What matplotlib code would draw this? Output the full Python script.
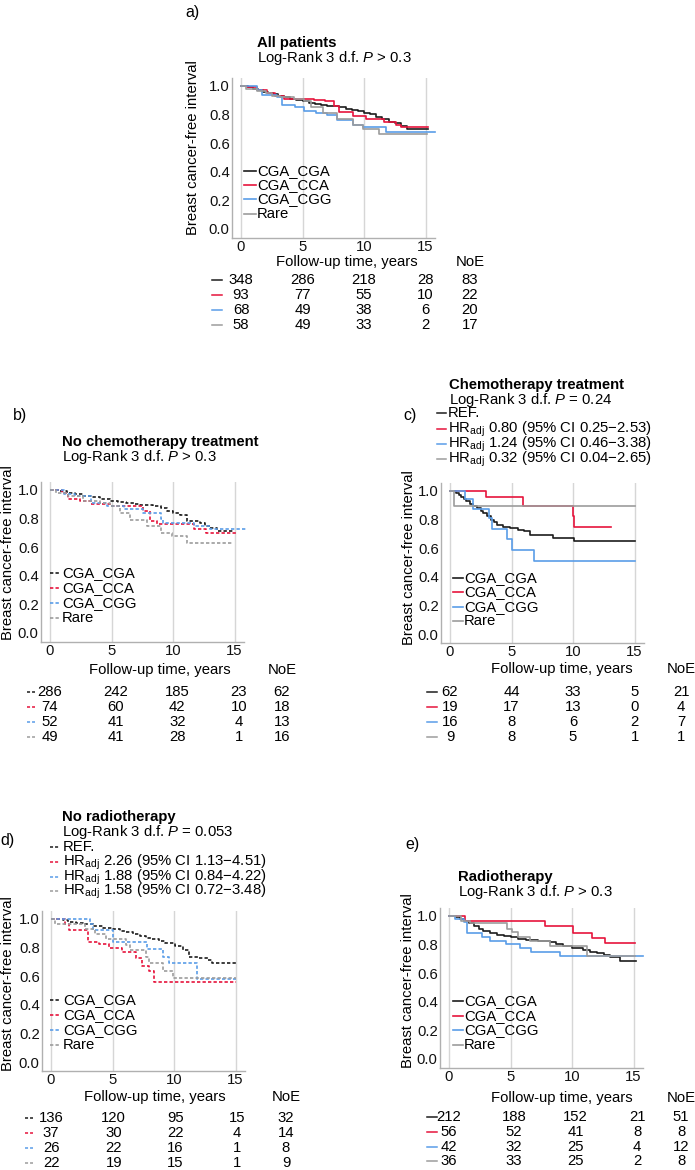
import matplotlib
matplotlib.use('Agg')
import matplotlib.pyplot as plt
from matplotlib.lines import Line2D
import matplotlib.transforms as mtransforms

plt.rcParams['font.family'] = ['Liberation Sans', 'DejaVu Sans']
plt.rcParams['mathtext.fontset'] = 'custom'
plt.rcParams['mathtext.rm'] = 'Liberation Sans'
plt.rcParams['mathtext.it'] = 'Liberation Sans:italic'
plt.rcParams['mathtext.bf'] = 'Liberation Sans:bold'

# ---------------- data ----------------
groups = ['CGA_CGA', 'CGA_CCA', 'CGA_CGG', 'Rare']
colors = ['#1c1c1c', '#e6143c', '#5a9de8', '#9c9c9c']
xticks = [0, 5, 10, 15]
yticks = [0.0, 0.2, 0.4, 0.6, 0.8, 1.0]

# a) All patients
a_cga_t = [0.6, 1.0, 1.4, 1.8, 2.2, 2.6, 3.0, 3.5, 4.0, 4.5, 5.0, 5.5, 6.0, 6.5, 7.0, 7.5, 8.0, 8.5, 9.0, 9.5, 10.0, 10.5, 11.0, 11.5, 12.0, 12.5, 13.0, 13.5]
a_cga_s = [0.99, 0.98, 0.97, 0.958, 0.95, 0.94, 0.93, 0.92, 0.91, 0.90, 0.89, 0.88, 0.87, 0.865, 0.86, 0.855, 0.85, 0.84, 0.83, 0.82, 0.81, 0.80, 0.78, 0.77, 0.75, 0.74, 0.72, 0.695]
a_cca_t = [0.5, 1.3, 2.1, 2.8, 3.5, 5.9, 6.8, 7.6, 8.0, 9.1, 10.2, 11.6, 12.6, 13.0]
a_cca_s = [0.99, 0.97, 0.947, 0.93, 0.91, 0.90, 0.89, 0.86, 0.814, 0.79, 0.77, 0.75, 0.726, 0.714]
a_cgg_t = [1.3, 1.7, 2.9, 3.3, 4.4, 5.1, 6.1, 7.0, 7.8, 9.1, 9.9, 11.8]
a_cgg_s = [0.97, 0.935, 0.923, 0.865, 0.85, 0.82, 0.807, 0.795, 0.76, 0.726, 0.71, 0.675]
a_rare_t = [0.4, 1.3, 2.0, 2.5, 3.2, 4.3, 5.1, 5.7, 6.7, 7.8, 9.1, 9.9, 11.2]
a_rare_s = [0.98, 0.965, 0.948, 0.93, 0.92, 0.905, 0.89, 0.853, 0.807, 0.77, 0.726, 0.70, 0.663]
a_end = [15.2, 15.2, 15.8, 15.1]
risk_a = [[348, 286, 218, 28], [93, 77, 55, 10], [68, 49, 38, 6], [58, 49, 33, 2]]
noe_a = [83, 22, 20, 17]

# b) No chemotherapy
b_cga_t = [0.8, 1.4, 2.0, 2.7, 3.4, 4.1, 4.9, 5.5, 6.2, 6.8, 7.3, 8.4, 9.0, 9.5, 10.0, 10.6, 11.1, 12.2, 12.6, 13.0, 13.6]
b_cga_s = [0.99, 0.98, 0.97, 0.958, 0.947, 0.935, 0.923, 0.915, 0.907, 0.90, 0.893, 0.883, 0.87, 0.853, 0.84, 0.825, 0.78, 0.77, 0.75, 0.73, 0.71]
b_cca_t = [0.95, 1.5, 2.4, 3.3, 4.9, 7.6, 8.1, 8.7, 11.7, 12.7]
b_cca_s = [0.98, 0.935, 0.923, 0.90, 0.888, 0.853, 0.78, 0.76, 0.724, 0.70]
b_cgg_t = [1.1, 2.0, 3.3, 4.6, 6.0, 7.6, 9.0, 9.2, 11.7, 13.0]
b_cgg_s = [0.97, 0.955, 0.907, 0.888, 0.865, 0.836, 0.795, 0.766, 0.748, 0.724]
b_rare_t = [0.5, 1.5, 2.7, 4.1, 4.9, 5.7, 6.5, 7.9, 9.0, 9.9, 11.1]
b_rare_s = [0.98, 0.955, 0.923, 0.907, 0.883, 0.84, 0.79, 0.748, 0.70, 0.678, 0.626]
b_end = [14.9, 15.2, 15.9, 14.9]
risk_b = [[286, 242, 185, 23], [74, 60, 42, 10], [52, 41, 32, 4], [49, 41, 28, 1]]
noe_b = [62, 18, 13, 16]

# c) Chemotherapy
c_cga_t = [0.5, 0.7, 0.9, 1.1, 1.3, 1.6, 1.9, 2.2, 2.5, 2.7, 3.0, 3.3, 3.6, 3.8, 4.3, 4.9, 5.5, 6.0, 6.5, 8.4, 10.1]
c_cga_s = [0.984, 0.968, 0.956, 0.94, 0.925, 0.91, 0.895, 0.88, 0.86, 0.844, 0.82, 0.797, 0.78, 0.762, 0.75, 0.739, 0.727, 0.716, 0.692, 0.669, 0.65]
c_cca_t = [2.9, 5.9, 10.0, 10.1]
c_cca_s = [0.953, 0.89, 0.82, 0.75]
c_cgg_t = [1.2, 1.9, 3.2, 3.4, 4.6, 5.0, 6.8]
c_cgg_s = [0.94, 0.875, 0.81, 0.73, 0.66, 0.585, 0.51]
c_rare_t = [0.35]
c_rare_s = [0.89]
c_end = [15.0, 13.1, 15.0, 15.0]
risk_c = [[62, 44, 33, 5], [19, 17, 13, 0], [16, 8, 6, 2], [9, 8, 5, 1]]
noe_c = [21, 4, 7, 1]
hr_c = [0.80, 1.24, 0.32]
lo_c = [0.25, 0.46, 0.04]
hi_c = [2.53, 3.38, 2.65]

# d) No radiotherapy
d_cga_t = [1.0, 1.4, 2.0, 2.6, 3.4, 4.2, 5.0, 5.6, 6.1, 6.7, 7.2, 7.7, 8.2, 8.8, 9.3, 10.1, 10.7, 11.2, 12.0, 12.8, 13.1]
d_cga_s = [0.99, 0.98, 0.97, 0.96, 0.949, 0.935, 0.925, 0.915, 0.907, 0.893, 0.88, 0.868, 0.855, 0.843, 0.832, 0.81, 0.785, 0.734, 0.727, 0.71, 0.69]
d_cca_t = [1.1, 1.5, 3.0, 3.9, 4.7, 5.8, 6.9, 7.4, 8.0, 8.4]
d_cca_s = [0.96, 0.918, 0.836, 0.82, 0.794, 0.77, 0.727, 0.668, 0.633, 0.556]
d_cgg_t = [3.2, 3.4, 5.0, 7.8, 9.1, 9.6, 11.9]
d_cgg_s = [0.96, 0.918, 0.836, 0.79, 0.734, 0.69, 0.58]
d_rare_t = [0.3, 2.8, 3.6, 4.5, 6.1, 6.4, 7.7, 8.0, 9.1, 9.9]
d_rare_s = [0.96, 0.925, 0.89, 0.86, 0.813, 0.785, 0.734, 0.69, 0.633, 0.587]
d_end = [15.0, 15.0, 15.0, 15.0]
risk_d = [[136, 120, 95, 15], [37, 30, 22, 4], [26, 22, 16, 1], [22, 19, 15, 1]]
noe_d = [32, 14, 8, 9]
hr_d = [2.26, 1.88, 1.58]
lo_d = [1.13, 0.84, 0.72]
hi_d = [4.51, 4.22, 3.48]

# e) Radiotherapy
e_cga_t = [0.6, 0.9, 1.2, 1.6, 2.0, 2.4, 2.8, 3.3, 3.9, 4.5, 5.0, 5.6, 6.3, 7.2, 8.2, 8.7, 9.3, 10.0, 10.9, 11.5, 12.0, 12.6, 13.1, 13.9]
e_cga_s = [0.99, 0.98, 0.965, 0.95, 0.93, 0.91, 0.896, 0.88, 0.868, 0.858, 0.85, 0.84, 0.833, 0.825, 0.814, 0.80, 0.79, 0.777, 0.763, 0.75, 0.738, 0.725, 0.71, 0.687]
e_cca_t = [1.3, 7.8, 10.1, 11.6, 12.7]
e_cca_s = [0.965, 0.926, 0.877, 0.845, 0.808]
e_cgg_t = [0.5, 1.2, 1.5, 2.7, 3.3, 4.6, 5.8, 6.7, 9.0]
e_cgg_s = [0.975, 0.954, 0.88, 0.854, 0.826, 0.80, 0.773, 0.745, 0.717]
e_rare_t = [1.0, 1.7, 4.7, 5.1, 5.6, 6.6, 8.2, 11.2]
e_rare_s = [0.965, 0.947, 0.907, 0.884, 0.854, 0.826, 0.787, 0.717]
e_end = [15.2, 15.1, 15.8, 15.1]
risk_e = [[212, 188, 152, 21], [56, 52, 41, 8], [42, 32, 25, 4], [36, 33, 25, 2]]
noe_e = [51, 8, 12, 8]

# ---------------- layout ----------------
W, H = 695, 1170
fig = plt.figure(figsize=(W / 100, H / 100), dpi=100)
FS = 10.7
PX_T, PX_S = 12.3, 143.3
XL = (-0.75, 15.8)
YL = (-0.065, 1.055)
DASHED = (0, (2.0, 1.3))


def fx(x):
    return x / W


def fy(y):
    return 1 - y / H


def ftext(x, y, s, **kw):
    kw.setdefault('fontsize', FS)
    kw.setdefault('va', 'center')
    fig.text(fx(x), fy(y), s, **kw)


def fline(x1, x2, y, color, ls, lw=1.2):
    fig.add_artist(Line2D([fx(x1), fx(x2)], [fy(y), fy(y)], color=color, lw=lw,
                          linestyle=ls, transform=fig.transFigure))


def km_panel(p):
    x0, y0 = p['x0'], p['y0']
    left = x0 + XL[0] * PX_T
    right = x0 + XL[1] * PX_T
    top = y0 - YL[1] * PX_S
    bottom = y0 - YL[0] * PX_S
    ax = fig.add_axes([fx(left), fy(bottom), (right - left) / W, (bottom - top) / H])
    ax.set_xlim(*XL)
    ax.set_ylim(*YL)
    for sp in ['top', 'right']:
        ax.spines[sp].set_visible(False)
    for sp in ['left', 'bottom']:
        ax.spines[sp].set_color('#b0b0b0')
        ax.spines[sp].set_linewidth(1.0)
    ax.set_xticks(xticks)
    ax.set_yticks(yticks)
    ax.set_yticklabels([f'{v:.1f}' for v in yticks])
    ax.tick_params(length=0, pad=1.5, labelsize=FS, colors='#111111')
    ax.xaxis.grid(True, color='#d6d6d6', lw=1.0)
    ax.set_axisbelow(True)
    ls = DASHED if p['dashed'] else '-'
    for (t, s, end), c in zip(p['curves'], colors):
        tt = [0.0] + list(t) + [end]
        ss = [1.0] + list(s) + [s[-1]]
        ax.step(tt, ss, where='post', color=c, lw=1.2, linestyle=ls, clip_on=False)
    # in-plot legend
    kx1, kx2, tx = p['leg_x']
    for g, c, yy in zip(groups, colors, p['leg_y']):
        fline(kx1, kx2, yy, c, ls)
        ftext(tx, yy, g)
    # labels
    ftext(*p['lab'], p['key'] + ')', fontsize=11.5, ha='left')
    ftext(*p['title'], p['name'], fontweight='bold', ha='left')
    ftext(p['title'][0], p['title'][1] + 15, p['logrank'], ha='left')
    ftext(*p['ylab'], 'Breast cancer-free interval', rotation=90, ha='center')
    ftext(*p['xlab'], 'Follow-up time, years', ha='center')
    ftext(p['noe_x'], p['xlab'][1], 'NoE', ha='center')
    # risk table
    tr = mtransforms.blended_transform_factory(ax.transData, fig.transFigure)
    d1, d2 = p['dash_x']
    for row, ne, c, yy in zip(p['risk'], p['noe'], colors, p['rows']):
        fline(d1, d2, yy, c, ls, lw=1.1)
        for t, n in zip(xticks, row):
            ax.text(t + p['col_off'] * (t > 0), fy(yy), str(n), transform=tr,
                    ha='center', va='center', fontsize=FS)
        ftext(p['noe_x'], yy, str(ne), ha='center')
    # HR block
    if 'hr' in p:
        hx1, hx2, hx_text, hys = p['hr_pos']
        lines = ['REF.'] + [r'HR$_{\rm adj}$' + f' {h:.2f} (95% CI {l:.2f}−{u:.2f})'
                            for h, l, u in zip(*p['hr'])]
        for txt, c, yy in zip(lines, colors, hys):
            fline(hx1, hx2, yy, c, ls, lw=1.1)
            ftext(hx_text, yy, txt, ha='left')
    return ax


panels = [
    dict(key='a', name='All patients', logrank=r'Log-Rank 3 d.f. $P$ > 0.3', dashed=False,
         x0=241, y0=229,
         curves=[(a_cga_t, a_cga_s, a_end[0]), (a_cca_t, a_cca_s, a_end[1]),
                 (a_cgg_t, a_cgg_s, a_end[2]), (a_rare_t, a_rare_s, a_end[3])],
         leg_x=(244, 256, 257), leg_y=[171, 185, 199, 214],
         lab=(185, 12), title=(257, 43), ylab=(193, 148), xlab=(347, 262),
         noe_x=470, rows=[280, 295, 310, 325], dash_x=(212, 222), col_off=0.0,
         risk=risk_a, noe=noe_a),
    dict(key='b', name='No chemotherapy treatment', logrank=r'Log-Rank 3 d.f. $P$ > 0.3', dashed=True,
         x0=50, y0=633,
         curves=[(b_cga_t, b_cga_s, b_end[0]), (b_cca_t, b_cca_s, b_end[1]),
                 (b_cgg_t, b_cgg_s, b_end[2]), (b_rare_t, b_rare_s, b_end[3])],
         leg_x=(50, 60, 62), leg_y=[573, 588, 603, 618],
         lab=(13, 415), title=(62, 442), ylab=(8, 553), xlab=(160, 670),
         noe_x=282, rows=[692, 707, 722, 737], dash_x=(27, 35), col_off=0.35,
         risk=risk_b, noe=noe_b),
    dict(key='c', name='Chemotherapy treatment', logrank=r'Log-Rank 3 d.f. $P$ = 0.24', dashed=False,
         x0=450, y0=634,
         curves=[(c_cga_t, c_cga_s, c_end[0]), (c_cca_t, c_cca_s, c_end[1]),
                 (c_cgg_t, c_cgg_s, c_end[2]), (c_rare_t, c_rare_s, c_end[3])],
         leg_x=(453, 463, 464), leg_y=[578, 592, 607, 621],
         lab=(403, 415), title=(449, 385), ylab=(409, 558), xlab=(562, 669),
         noe_x=681, rows=[692, 707, 722, 737], dash_x=(427, 437), col_off=0.0,
         risk=risk_c, noe=noe_c,
         hr=(hr_c, lo_c, hi_c), hr_pos=(437, 446, 448, [413, 429, 444, 459])),
    dict(key='d', name='No radiotherapy', logrank=r'Log-Rank 3 d.f. $P$ = 0.053', dashed=True,
         x0=51, y0=1062,
         curves=[(d_cga_t, d_cga_s, d_end[0]), (d_cca_t, d_cca_s, d_end[1]),
                 (d_cgg_t, d_cgg_s, d_end[2]), (d_rare_t, d_rare_s, d_end[3])],
         leg_x=(50, 60, 63), leg_y=[1000, 1015, 1030, 1045],
         lab=(0, 841), title=(62, 817), ylab=(8, 984), xlab=(155, 1097),
         noe_x=286, rows=[1118, 1133, 1148, 1163], dash_x=(25, 33), col_off=0.1,
         risk=risk_d, noe=noe_d,
         hr=(hr_d, lo_d, hi_d), hr_pos=(50, 60, 63, [847, 862, 877, 891])),
    dict(key='e', name='Radiotherapy', logrank=r'Log-Rank 3 d.f. $P$ > 0.3', dashed=False,
         x0=449, y0=1059,
         curves=[(e_cga_t, e_cga_s, e_end[0]), (e_cca_t, e_cca_s, e_end[1]),
                 (e_cgg_t, e_cgg_s, e_end[2]), (e_rare_t, e_rare_s, e_end[3])],
         leg_x=(453, 463, 464), leg_y=[1001, 1016, 1030, 1045],
         lab=(405, 845), title=(458, 877), ylab=(408, 981), xlab=(562, 1098),
         noe_x=681, rows=[1117, 1132, 1147, 1161], dash_x=(427, 437), col_off=0.3,
         risk=risk_e, noe=noe_e),
]

for p in panels:
    km_panel(p)

fig.savefig('out.png', dpi=100, facecolor='white')
